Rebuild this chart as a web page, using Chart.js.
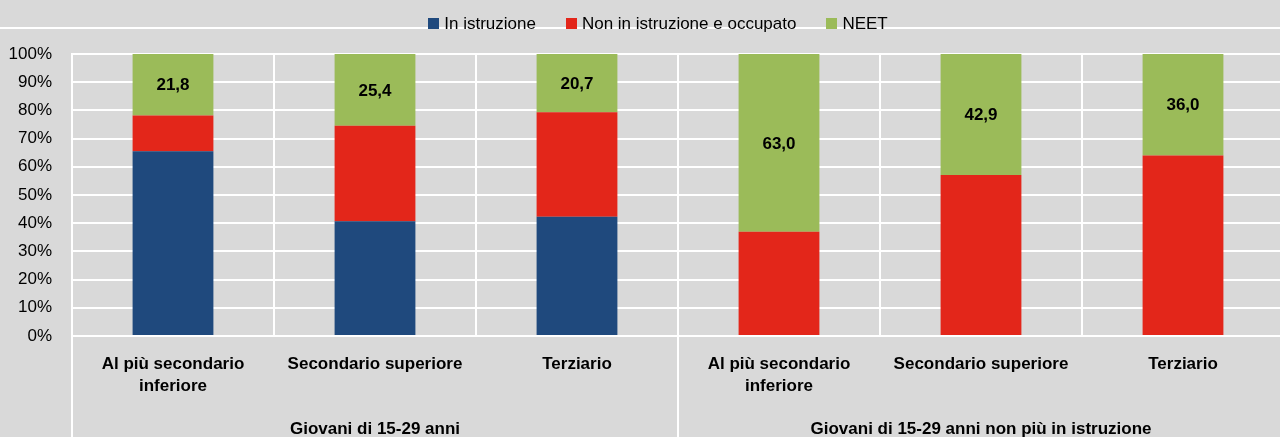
<!DOCTYPE html>
<html>
<head>
<meta charset="utf-8">
<script src="https://cdn.jsdelivr.net/npm/chart.js@4.4.1/dist/chart.umd.min.js"></script>
<style>
html,body{margin:0;padding:0;background:#d9d9d9;overflow:hidden;}
#wrap{position:relative;width:1284px;height:437px;}
canvas{display:block;}
</style>
</head>
<body>
<div id="wrap"><canvas id="c" width="1284" height="437"></canvas></div>
<script>
// ---- data ----
const categories = [["Al più secondario", "inferiore"], "Secondario superiore", "Terziario",
                    ["Al più secondario", "inferiore"], "Secondario superiore", "Terziario"];
const groupLabels = ["Giovani di 15-29 anni", "Giovani di 15-29 anni non più in istruzione"];
const groupSizes = [3, 3];
const seriesNames = ["In istruzione", "Non in istruzione e occupato", "NEET"];
const inIstruzione = [65.5, 40.7, 42.3, 0, 0, 0];
const occupato = [12.7, 33.9, 37.0, 37.0, 57.1, 64.0];
const neet = [21.8, 25.4, 20.7, 63.0, 42.9, 36.0];
const yTickValues = [0, 10, 20, 30, 40, 50, 60, 70, 80, 90, 100];

// ---- style ----
const FONT = "'Liberation Sans', Arial, Helvetica, sans-serif";
const COLORS = ["#1f497d", "#e3261a", "#9bbb59"];
const GRID = "#ffffff";

const decorPlugin = {
  id: 'decor',
  beforeDraw(chart) {
    const ctx = chart.ctx;
    ctx.save();
    ctx.fillStyle = '#d9d9d9';
    ctx.fillRect(0, 0, chart.width, chart.height);
    // white frame line under the legend
    ctx.strokeStyle = GRID;
    ctx.lineWidth = 2;
    ctx.beginPath();
    ctx.moveTo(0, 28);
    ctx.lineTo(chart.width, 28);
    ctx.stroke();
    ctx.restore();
  },
  afterDraw(chart) {
    const ctx = chart.ctx;
    const x = chart.scales.x;
    const area = chart.chartArea;
    ctx.save();
    // group separators extending below the axis
    ctx.strokeStyle = GRID;
    ctx.lineWidth = 2;
    const bounds = [area.left];
    let idx = 0;
    groupSizes.forEach(n => {
      idx += n;
      if (idx < categories.length) {
        bounds.push((x.getPixelForValue(idx - 1) + x.getPixelForValue(idx)) / 2);
      } else {
        bounds.push(area.right);
      }
    });
    bounds.forEach(b => {
      ctx.beginPath();
      ctx.moveTo(Math.round(b), area.bottom);
      ctx.lineTo(Math.round(b), chart.height);
      ctx.stroke();
    });
    // group labels
    ctx.fillStyle = '#000';
    ctx.font = "bold 17px " + FONT;
    ctx.textAlign = 'center';
    ctx.textBaseline = 'middle';
    groupLabels.forEach((g, i) => {
      const cx = (bounds[i] + bounds[i + 1]) / 2;
      ctx.fillText(g, cx, area.bottom + 93);
    });
    // legend
    ctx.font = "17px " + FONT;
    ctx.textAlign = 'left';
    ctx.textBaseline = 'alphabetic';
    const box = 11, gapText = 5, gapItem = 30;
    const widths = seriesNames.map(s => ctx.measureText(s).width);
    let total = 0;
    widths.forEach((w, i) => { total += box + gapText + w + (i < widths.length - 1 ? gapItem : 0); });
    let lx = 658 - total / 2;
    seriesNames.forEach((s, i) => {
      ctx.fillStyle = COLORS[i];
      ctx.fillRect(Math.round(lx), 18, box, box);
      ctx.fillStyle = '#000';
      ctx.fillText(s, lx + box + gapText, 29);
      lx += box + gapText + widths[i] + gapItem;
    });
    ctx.restore();
  },
  afterDatasetsDraw(chart) {
    const ctx = chart.ctx;
    const meta = chart.getDatasetMeta(2);
    ctx.save();
    ctx.fillStyle = '#000';
    ctx.font = "bold 17px " + FONT;
    ctx.textAlign = 'center';
    ctx.textBaseline = 'middle';
    meta.data.forEach((el, i) => {
      const v = neet[i];
      const txt = v.toFixed(1).replace('.', ',');
      ctx.fillText(txt, el.x, (el.y + el.base) / 2 + 1);
    });
    ctx.restore();
  }
};

const datasets = [inIstruzione, occupato, neet].map((d, i) => ({
  label: seriesNames[i],
  data: d,
  backgroundColor: COLORS[i],
  borderWidth: 0,
  barPercentage: 0.4,
  categoryPercentage: 1.0
}));

new Chart(document.getElementById('c'), {
  type: 'bar',
  data: { labels: categories, datasets },
  options: {
    responsive: false,
    animation: false,
    devicePixelRatio: 1,
    layout: { padding: { top: 54, left: 0, right: 0, bottom: 0 } },
    plugins: {
      legend: { display: false },
      tooltip: { enabled: false }
    },
    scales: {
      x: {
        stacked: true,
        offset: true,
        grid: { color: GRID, lineWidth: 2, drawTicks: false, offset: true },
        border: { display: true, color: GRID, width: 2 },
        ticks: {
          color: '#000',
          font: { family: FONT, size: 17, weight: 'bold', lineHeight: 1.3 },
          padding: 17,
          maxRotation: 0,
          minRotation: 0,
          autoSkip: false
        },
        afterFit(s) { s.height = 101; }
      },
      y: {
        stacked: true,
        min: 0,
        max: 100,
        afterBuildTicks(s) { s.ticks = yTickValues.map(v => ({ value: v })); },
        grid: { color: GRID, lineWidth: 2, drawTicks: false },
        border: { display: true, color: GRID, width: 2 },
        ticks: {
          color: '#000',
          font: { family: FONT, size: 17 },
          padding: 20,
          callback: v => v + '%'
        },
        afterFit(s) { s.width = 72; }
      }
    }
  },
  plugins: [decorPlugin]
});
</script>
</body>
</html>
